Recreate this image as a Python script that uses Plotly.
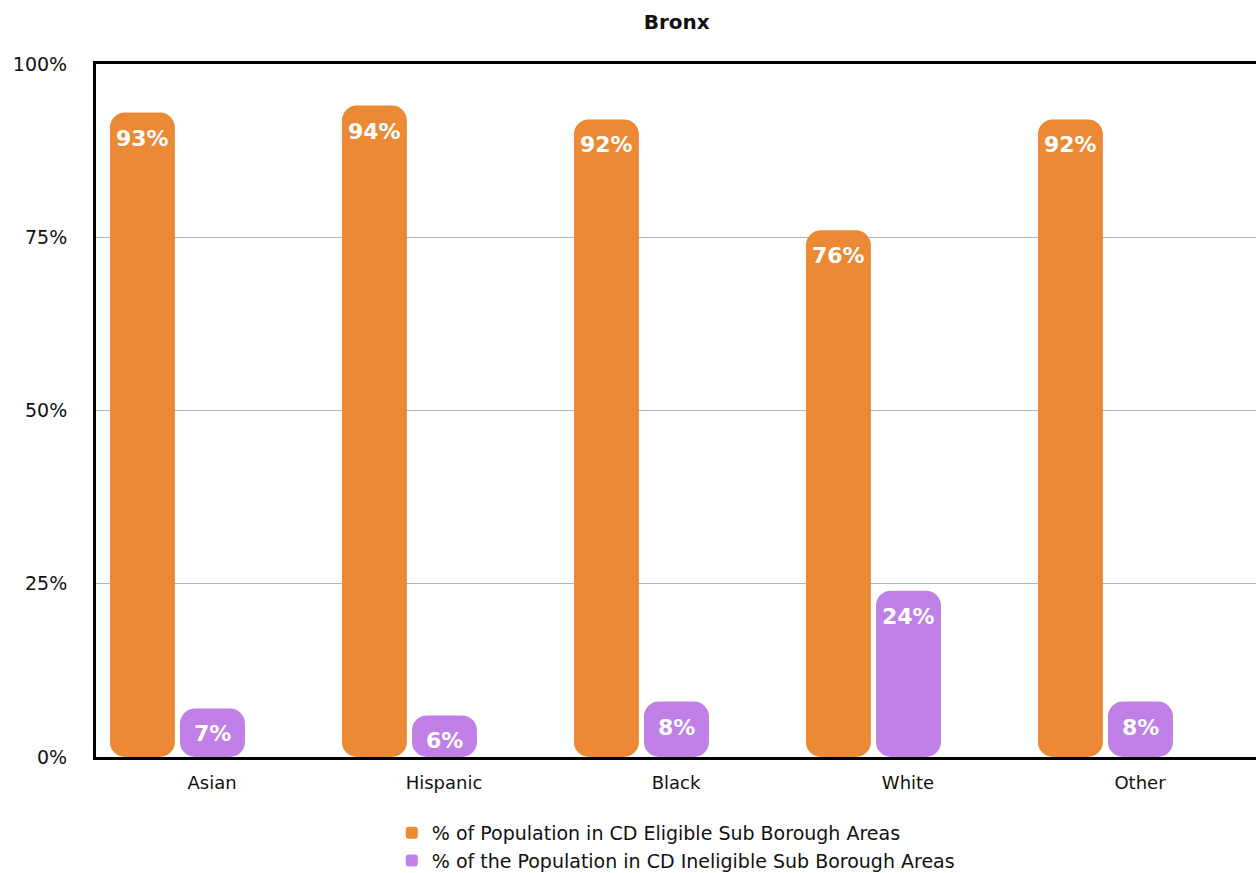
import plotly.graph_objects as go

categories = ["Asian", "Hispanic", "Black", "White", "Other"]
eligible = [93, 94, 92, 76, 92]
ineligible = [7, 6, 8, 24, 8]
series_names = ["% of Population in CD Eligible Sub Borough Areas",
                "% of the Population in CD Ineligible Sub Borough Areas"]
y_ticks = [0, 25, 50, 75, 100]
y_tick_labels = ["0%", "25%", "50%", "75%", "100%"]

ORANGE = "#EB8935"
PURPLE = "#C080E8"
FONT = "'DejaVu Sans', sans-serif"
BAR_W = 0.28

fig = go.Figure()

def add_series(vals, name, color, offset):
    # bar drawn downward from the value to 0 (rounded at both ends)
    fig.add_trace(go.Bar(
        x=categories, y=[-v for v in vals], base=vals,
        marker=dict(color=color, line=dict(width=0)),
        width=BAR_W, offset=offset, name=name,
        hovertemplate="%{x}: %{base}%<extra></extra>",
    ))
    for i, v in enumerate(vals):
        fig.add_annotation(
            x=i + offset + BAR_W / 2, y=v, xref="x", yref="y",
            text=f"{v}%", showarrow=False, yanchor="top", yshift=-11,
            font=dict(color="white", size=22, family=FONT, weight="bold"),
        )

add_series(eligible, series_names[0], ORANGE, -0.44)
add_series(ineligible, series_names[1], PURPLE, -0.138)

fig.update_layout(
    width=1256, height=873,
    margin=dict(l=96, r=0, t=64, b=116, autoexpand=False),
    paper_bgcolor="white", plot_bgcolor="white",
    barmode="overlay", barcornerradius=15,
    font=dict(family=FONT, size=18, color="#111111"),
    title=dict(text="Bronx", x=0.5388, xanchor="center", y=0.975,
               yanchor="middle", font=dict(size=20, color="#111111", weight="bold")),
    legend=dict(x=0.255, xanchor="left", y=-0.082, yanchor="top",
                orientation="v", font=dict(size=19), tracegroupgap=6,
                traceorder="normal"),
    xaxis=dict(
        type="category", range=[-0.5, 4.5], showgrid=False,
        showline=True, linecolor="black", linewidth=3, mirror=True,
        ticks="", ticklabelstandoff=7, tickfont=dict(size=18),
        fixedrange=True,
    ),
    yaxis=dict(
        range=[0, 100], tickvals=y_ticks, ticktext=y_tick_labels,
        showgrid=True, gridcolor="#b5b5b5", gridwidth=1,
        showline=True, linecolor="black", linewidth=3,
        ticks="", ticklabelstandoff=22, tickfont=dict(size=19),
        zeroline=False, fixedrange=True,
    ),
)

fig.write_html("out.html")
